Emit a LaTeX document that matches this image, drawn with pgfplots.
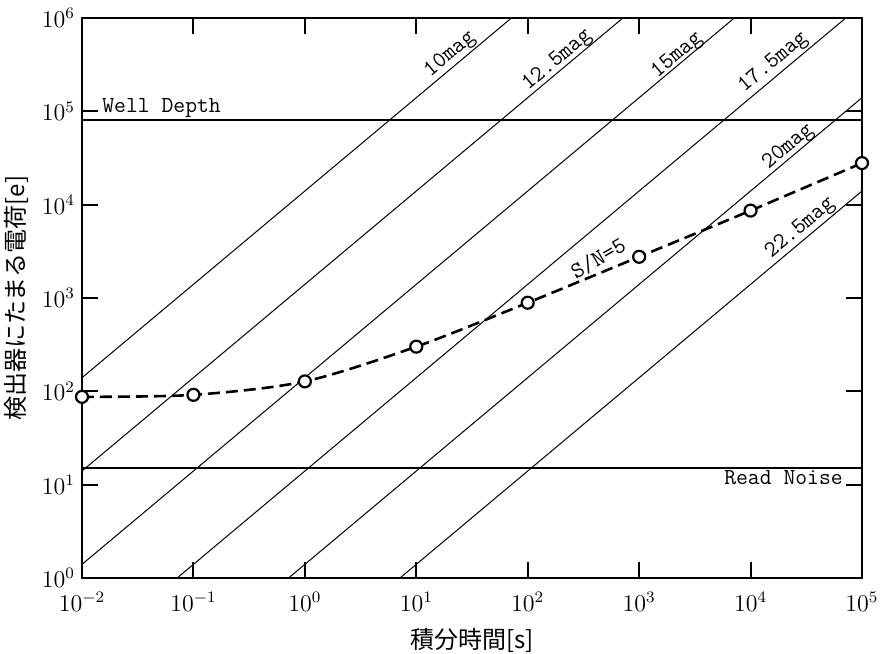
\documentclass[border=0pt]{standalone}
\usepackage{fontspec}
\usepackage{pgfplots}
\pgfplotsset{compat=1.18}
\newfontfamily\jp{Noto Sans CJK JP}
\begin{document}
\begin{tikzpicture}
\begin{axis}[
  xmode=log, ymode=log,
  scale only axis, width=390pt, height=280pt,
  xmin=1e-2, xmax=1e5, ymin=1, ymax=1e6,
  xtick={1e-2,1e-1,1,10,100,1000,1e4,1e5},
  ytick={1,10,100,1000,1e4,1e5,1e6},
  xminorticks=false, yminorticks=false,
  tick align=inside, major tick length=8pt,
  axis line style={line width=1pt},
  every tick/.style={black, line width=1pt},
  tick label style={font=\large},
  xticklabel style={yshift=-3.5pt},
  xlabel={\jp 積分時間[s]},
  ylabel={\jp 検出器にたまる電荷[e]},
  xlabel style={yshift=-2pt},
  label style={font=\fontsize{12}{14}\selectfont},
  clip=true,
]
% magnitude lines
\addplot[black, line width=0.5pt] coordinates {(1e-2,140) (1e5,1.4e9)};
\addplot[black, line width=0.5pt] coordinates {(1e-2,14) (1e5,1.4e8)};
\addplot[black, line width=0.5pt] coordinates {(1e-2,1.4) (1e5,1.4e7)};
\addplot[black, line width=0.5pt] coordinates {(1e-2,0.14) (1e5,1.4e6)};
\addplot[black, line width=0.5pt] coordinates {(1e-2,0.014) (1e5,1.4e5)};
\addplot[black, line width=0.5pt] coordinates {(1e-2,0.0014) (1e5,1.4e4)};
% well depth / read noise
\addplot[black, line width=1pt] coordinates {(1e-2,80000) (1e5,80000)};
\addplot[black, line width=1pt] coordinates {(1e-2,15) (1e5,15)};
% S/N = 5
\addplot[black, line width=1.3pt, dash pattern=on 6pt off 3pt, smooth,
  mark=*, mark size=3pt, mark options={solid, fill=white, draw=black, line width=1.1pt}]
  coordinates {(1e-2,87.3) (1e-1,91.7) (1,127.8) (10,301) (100,890) (1000,2763) (1e4,8640) (1e5,27900)};
\coordinate (bl) at (rel axis cs:0,0);
\coordinate (tr) at (rel axis cs:1,1);
\begin{scope}[every node/.style={font=\ttfamily\fontsize{11.5}{13}\selectfont, inner sep=1pt}]
\node[rotate=40] at (axis cs:20.1,4.06e5) {10mag};
\node[rotate=40] at (axis cs:184,3.5e5) {12.5mag};
\node[rotate=40] at (axis cs:2190,3.96e5) {15mag};
\node[rotate=40] at (axis cs:1.6e4,3.33e5) {17.5mag};
\node[rotate=40] at (axis cs:2.18e4,4.15e4) {20mag};
\node[rotate=40] at (axis cs:2.79e4,5.57e3) {22.5mag};
\node[rotate=30] at (axis cs:430,2650) {S/N=5};
\node[anchor=south west] at (axis cs:0.0145,80000) {Well Depth};
\node[anchor=north east] at (axis cs:7.06e4,15) {Read Noise};
\end{scope}
\end{axis}
\pgfresetboundingbox
\path[use as bounding box] ([xshift=-41pt,yshift=-38pt]bl) rectangle ([xshift=12pt,yshift=9pt]tr);
\end{tikzpicture}
\end{document}
